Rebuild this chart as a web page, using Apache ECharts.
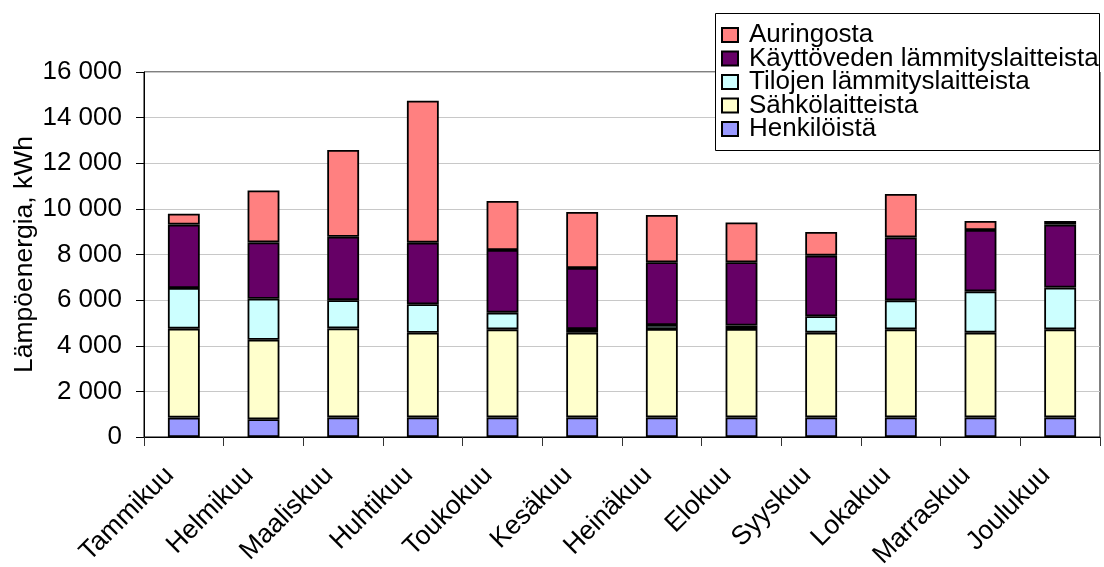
<!DOCTYPE html>
<html>
<head>
<meta charset="utf-8">
<style>
  html, body { margin: 0; padding: 0; background: #fff; }
  #chart { width: 1104px; height: 567px; }
</style>
<script src="https://cdn.jsdelivr.net/npm/echarts@6/dist/echarts.min.js"></script>
</head>
<body>
<div id="chart"></div>
<script>
// Monthly heat energy (kWh) by source
const months = ['Tammikuu', 'Helmikuu', 'Maaliskuu', 'Huhtikuu', 'Toukokuu', 'Kesäkuu',
                'Heinäkuu', 'Elokuu', 'Syyskuu', 'Lokakuu', 'Marraskuu', 'Joulukuu'];
const henkiloista = [850, 780, 860, 860, 860, 860, 860, 860, 860, 860, 860, 860];
const sahkolaitteista = [3900, 3480, 3900, 3710, 3860, 3715, 3875, 3875, 3715, 3860, 3715, 3860];
const tilojenLammitys = [1780, 1800, 1240, 1250, 730, 160, 175, 150, 715, 1270, 1810, 1830];
const kayttovedenLammitys = [2780, 2470, 2780, 2700, 2750, 2675, 2750, 2775, 2660, 2760, 2690, 2760];
const auringosta = [480, 2280, 3800, 6220, 2145, 2455, 2075, 1740, 1040, 1900, 395, 160];

const yTicks = { min: 0, max: 16000, interval: 2000 };

const FONT = '"Liberation Sans", Arial, sans-serif';
const fmt = v => String(v).replace(/\B(?=(\d{3})+(?!\d))/g, ' ');

const seriesDefs = [
  { name: 'Henkilöistä', data: henkiloista, color: '#9999FF' },
  { name: 'Sähkölaitteista', data: sahkolaitteista, color: '#FFFFCC' },
  { name: 'Tilojen lämmityslaitteista', data: tilojenLammitys, color: '#CCFFFF' },
  { name: 'Käyttöveden lämmityslaitteista', data: kayttovedenLammitys, color: '#660066' },
  { name: 'Auringosta', data: auringosta, color: '#FF8080' }
];

const chart = echarts.init(document.getElementById('chart'), null, { renderer: 'canvas' });

chart.setOption({
  animation: false,
  backgroundColor: '#fff',
  textStyle: { fontFamily: FONT, color: '#000' },
  grid: {
    left: 144, right: 4, top: 72, bottom: 130,
    containLabel: false, outerBoundsMode: 'none',
    show: true, borderColor: '#000', borderWidth: 1, backgroundColor: 'transparent'
  },
  graphic: [{
    type: 'rect', z: 3,
    shape: { x: 715.5, y: 13.5, width: 384, height: 137 },
    style: { fill: '#fff', stroke: '#000', lineWidth: 1 }
  }],
  legend: {
    orient: 'vertical',
    left: 721, top: 22,
    itemGap: -2.5,
    itemWidth: 16, itemHeight: 14,
    padding: 0,
    icon: 'rect',
    data: seriesDefs.map(s => s.name).reverse(),
    textStyle: {
      fontFamily: FONT, fontSize: 26, color: '#000',
      lineHeight: 24, padding: [0, 0, 0, 6]
    }
  },
  xAxis: {
    type: 'category',
    data: months,
    boundaryGap: true,
    axisLine: { lineStyle: { color: '#000', width: 1 } },
    axisTick: { show: true, length: 9, lineStyle: { color: '#333' } },
    axisLabel: {
      rotate: 45, fontSize: 26.5, fontFamily: FONT, color: '#000',
      margin: 20, interval: 0, padding: [0, 20, 0, 0]
    },
    splitLine: { show: false }
  },
  yAxis: {
    type: 'value',
    min: yTicks.min, max: yTicks.max, interval: yTicks.interval,
    name: 'Lämpöenergia, kWh',
    nameLocation: 'middle',
    nameGap: 106,
    nameRotate: 90,
    nameMoveOverlap: false,
    nameTextStyle: { fontSize: 26.5, fontFamily: FONT, color: '#000' },
    axisLine: { show: true, lineStyle: { color: '#000', width: 1 } },
    axisTick: { show: true, length: 8, lineStyle: { color: '#000' } },
    axisLabel: {
      fontSize: 26, fontFamily: FONT, color: '#000', margin: 22,
      formatter: v => fmt(v)
    },
    splitLine: { show: true, lineStyle: { color: '#c8c8c8', width: 1 } }
  },
  series: seriesDefs.map(s => ({
    name: s.name,
    type: 'bar',
    stack: 'energia',
    data: s.data,
    barWidth: '40%',
    itemStyle: { color: s.color, borderColor: '#000', borderWidth: 1.8 },
    emphasis: { disabled: true }
  }))
});
</script>
</body>
</html>
